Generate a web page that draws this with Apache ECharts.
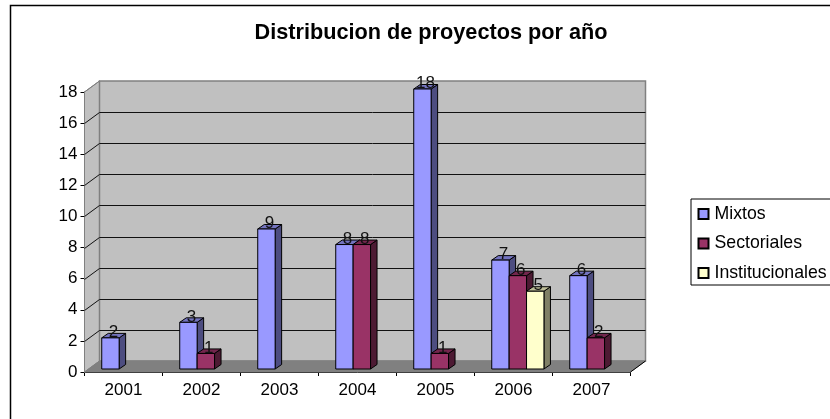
<!DOCTYPE html>
<html>
<head>
<meta charset="utf-8">
<style>html,body{margin:0;padding:0;background:#fff}#chart{width:830px;height:419px}</style>
<script src="https://cdn.jsdelivr.net/npm/echarts@6/dist/echarts.min.js"></script>
</head>
<body>
<div id="chart"></div>
<script>
const years = ['2001', '2002', '2003', '2004', '2005', '2006', '2007'];
const mixtos = [2, 3, 9, 8, 18, 7, 6];
const sectoriales = [null, 1, null, 8, 1, 6, 2];
const institucionales = [null, null, null, null, null, 5, null];
const yTicks = [0, 2, 4, 6, 8, 10, 12, 14, 16, 18];

const FONT = '"Liberation Sans", Arial, sans-serif';
// 3d look: how far the back wall sits from the front axes
const WALL_DX = 15, WALL_DY = 11;
// bars stand a bit inside the floor
const BAR_DY = 3;
const BAR_DEPTH_X = 6.5, BAR_DEPTH_Y = 4.5;
const BAR_W = 17.4;

function walls(params, api) {
    const cs = params.coordSys;
    const left = cs.x, right = cs.x + cs.width, bottom = cs.y + cs.height;
    const top = api.coord([0, 18])[1];
    const kids = [];
    // side wall
    kids.push({type: 'polygon', shape: {points: [[left, bottom], [left + WALL_DX, bottom - WALL_DY], [left + WALL_DX, top - WALL_DY], [left, top]]},
        style: {fill: '#c0c0c0', stroke: '#808080', lineWidth: 1}});
    // back wall
    kids.push({type: 'rect', shape: {x: left + WALL_DX, y: top - WALL_DY, width: cs.width, height: bottom - top},
        style: {fill: '#c0c0c0', stroke: '#808080', lineWidth: 1.5}});
    // floor
    kids.push({type: 'polygon', shape: {points: [[left, bottom], [left + WALL_DX, bottom - WALL_DY], [right + WALL_DX, bottom - WALL_DY], [right, bottom]]},
        style: {fill: '#808080', stroke: '#808080', lineWidth: 1}});
    yTicks.forEach(function (t) {
        const y = Math.round(api.coord([0, t])[1]) + 0.5;
        if (t > 0 && t < 18) {
            kids.push({type: 'line', shape: {x1: left + WALL_DX, y1: y - WALL_DY, x2: right + WALL_DX, y2: y - WALL_DY}, style: {stroke: '#111', lineWidth: 1}});
        }
        if (t < 18) {
            kids.push({type: 'line', shape: {x1: left, y1: y, x2: left + WALL_DX, y2: y - WALL_DY}, style: {stroke: t === 0 ? '#808080' : '#111', lineWidth: 1}});
        }
    });
    kids.push({type: 'line', shape: {x1: left, y1: top, x2: left + WALL_DX, y2: top - WALL_DY}, style: {stroke: '#808080', lineWidth: 1}});
    kids.push({type: 'line', shape: {x1: right, y1: bottom, x2: right + WALL_DX, y2: bottom - WALL_DY}, style: {stroke: '#000', lineWidth: 1}});
    return {type: 'group', children: kids};
}

function barRender(slot, front, top, side) {
    return function (params, api) {
        const v = api.value(1);
        if (v == null || isNaN(v)) return null;
        const bandW = api.size([1, 0])[0];
        const x0 = api.coord([api.value(0), 0])[0] - bandW / 2 + bandW * 0.221 + slot * BAR_W;
        const y0 = api.coord([0, 0])[1] - BAR_DY;
        const y1 = api.coord([0, v])[1] - BAR_DY;
        const x1 = x0 + BAR_W;
        const dx = BAR_DEPTH_X, dy = BAR_DEPTH_Y;
        const line = {stroke: '#000', lineWidth: 1, lineJoin: 'round'};
        return {type: 'group', children: [
            {type: 'polygon', shape: {points: [[x1, y0], [x1 + dx, y0 - dy], [x1 + dx, y1 - dy], [x1, y1]]}, style: Object.assign({fill: side}, line)},
            {type: 'polygon', shape: {points: [[x0, y1], [x0 + dx, y1 - dy], [x1 + dx, y1 - dy], [x1, y1]]}, style: Object.assign({fill: top}, line)},
            {type: 'rect', shape: {x: x0, y: y1, width: BAR_W, height: y0 - y1}, style: Object.assign({fill: front}, line)},
            {type: 'text', style: {x: (x0 + x1) / 2 + 3, y: y1 - 5.5, text: String(v), fill: '#111', font: '17px ' + FONT, align: 'center', verticalAlign: 'middle'}, z2: 10}
        ]};
    };
}

function toData(arr) {
    return arr.map(function (v, i) { return [i, v]; });
}

const chart = echarts.init(document.getElementById('chart'), null, {renderer: 'canvas'});
chart.setOption({
    animation: false,
    backgroundColor: '#fff',
    title: {
        text: 'Distribucion de proyectos por año',
        left: 426, top: 17, textAlign: 'center',
        textStyle: {fontFamily: FONT, fontSize: 21.7, fontWeight: 'bold', color: '#000'}
    },
    graphic: [{type: 'rect', shape: {x: 10.5, y: 5.5, width: 840, height: 430}, style: {fill: 'none', stroke: '#000', lineWidth: 1.5}, z: -10}],
    grid: {left: 84.5, top: 92, width: 546, height: 280},
    legend: {
        left: 691, top: 199, orient: 'vertical', itemWidth: 10, itemHeight: 10, itemGap: 11.5,
        padding: [6, 40, 3, 6.5], borderColor: '#000', borderWidth: 1, backgroundColor: '#fff',
        icon: 'rect',
        textStyle: {fontFamily: FONT, fontSize: 17.7, color: '#000', padding: [0, 0, 3, 1]},
        data: ['Mixtos', 'Sectoriales', 'Institucionales']
    },
    xAxis: {
        type: 'category', data: years, boundaryGap: true,
        axisLine: {lineStyle: {color: '#000', width: 1}},
        axisTick: {show: true, alignWithLabel: false, length: 4, lineStyle: {color: '#000'}},
        axisLabel: {fontFamily: FONT, fontSize: 17, color: '#000', margin: 10},
        splitLine: {show: false}
    },
    yAxis: {
        type: 'value', min: 0, max: 18, interval: 2,
        axisLine: {show: true, lineStyle: {color: '#000', width: 1}},
        axisTick: {show: true, length: 4, lineStyle: {color: '#000'}},
        axisLabel: {fontFamily: FONT, fontSize: 17, color: '#000', margin: 7},
        splitLine: {show: false}
    },
    series: [
        {type: 'custom', name: 'walls', silent: true, z: 1, data: [[0, 0]], renderItem: walls, encode: {x: 0, y: 1}},
        {type: 'custom', name: 'Mixtos', z: 2, data: toData(mixtos), encode: {x: 0, y: 1},
            itemStyle: {color: '#9999ff', borderColor: '#000', borderWidth: 1},
            renderItem: barRender(0, '#9999ff', '#7373bf', '#4d4d80')},
        {type: 'custom', name: 'Sectoriales', z: 3, data: toData(sectoriales), encode: {x: 0, y: 1},
            itemStyle: {color: '#993366', borderColor: '#000', borderWidth: 1},
            renderItem: barRender(1, '#993366', '#73264d', '#4d1a33')},
        {type: 'custom', name: 'Institucionales', z: 4, data: toData(institucionales), encode: {x: 0, y: 1},
            itemStyle: {color: '#ffffcc', borderColor: '#000', borderWidth: 1},
            renderItem: barRender(2, '#ffffcc', '#bfbf99', '#808066')}
    ]
});
</script>
</body>
</html>
